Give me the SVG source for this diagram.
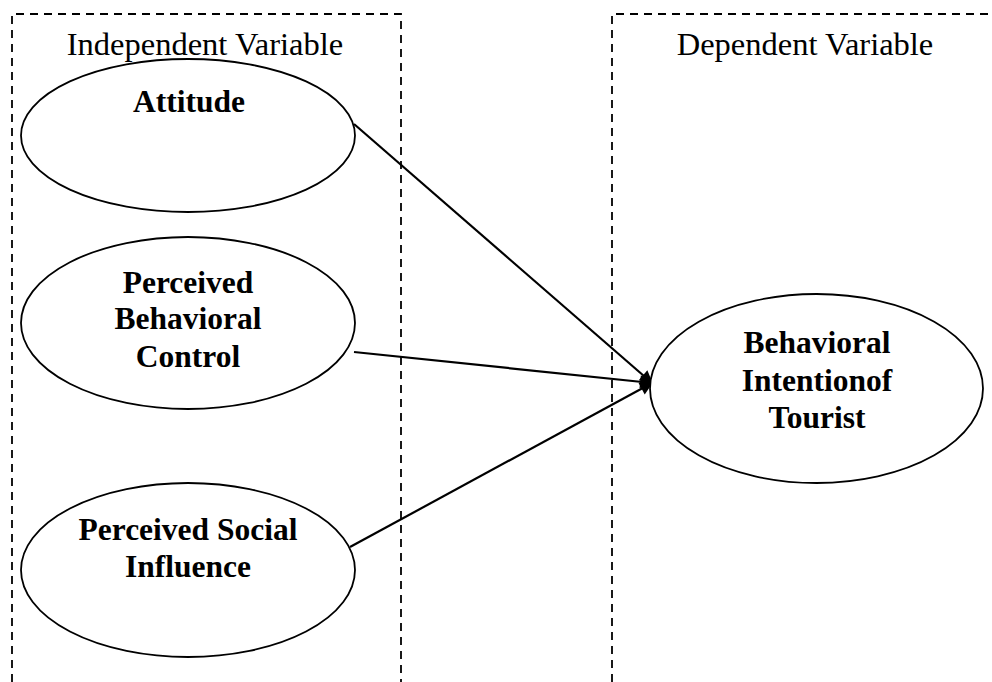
<svg xmlns="http://www.w3.org/2000/svg" width="992" height="682" viewBox="0 0 992 682">
<style>
.box{fill:none;stroke:#000;stroke-width:1.8;stroke-dasharray:8 6}
.ell{fill:#fff;stroke:#000;stroke-width:1.8}
.hdr{font-family:"Liberation Serif","Times New Roman",serif;font-size:32.5px;text-anchor:middle;fill:#000}
.lbl{font-family:"Liberation Serif","Times New Roman",serif;font-size:31.5px;font-weight:bold;text-anchor:middle;fill:#000}
.conn{stroke:#000;stroke-width:2.2;fill:none;marker-end:url(#ah)}
</style>
<defs>
<marker id="ah" viewBox="0 0 10 10" refX="9" refY="5" markerWidth="7" markerHeight="6" markerUnits="strokeWidth" orient="auto">
<path d="M0,0 L10,5 L0,10 z" fill="#000"/>
</marker>
</defs>
<rect width="992" height="682" fill="#fff"/>
<g id="independent-box">
<path class="box" d="M12,682 V14 H401 V682"/>
<text class="hdr" x="205" y="55">Independent Variable</text>
</g>
<g id="dependent-box">
<path class="box" d="M612,682 V14 H992"/>
<text class="hdr" x="805" y="55">Dependent Variable</text>
</g>
<g id="connectors">
<line class="conn" x1="354" y1="124" x2="652" y2="383"/>
<line class="conn" x1="354" y1="352" x2="652" y2="383"/>
<line class="conn" x1="350" y1="547" x2="652" y2="383"/>
</g>
<g id="attitude">
<ellipse class="ell" cx="188" cy="135.5" rx="167" ry="76.5"/>
<text class="lbl" x="189" y="112">Attitude</text>
</g>
<g id="pbc">
<ellipse class="ell" cx="188" cy="323" rx="167" ry="86"/>
<text class="lbl" x="188" y="293">Perceived</text>
<text class="lbl" x="188" y="329">Behavioral</text>
<text class="lbl" x="188" y="367">Control</text>
</g>
<g id="psi">
<ellipse class="ell" cx="188" cy="570" rx="167" ry="87"/>
<text class="lbl" x="188" y="540">Perceived Social</text>
<text class="lbl" x="188" y="577">Influence</text>
</g>
<g id="intention">
<ellipse class="ell" cx="816.5" cy="388.5" rx="166.5" ry="94.5"/>
<text class="lbl" x="817" y="353">Behavioral</text>
<text class="lbl" x="817" y="391">Intentionof</text>
<text class="lbl" x="817" y="428">Tourist</text>
</g>
</svg>
